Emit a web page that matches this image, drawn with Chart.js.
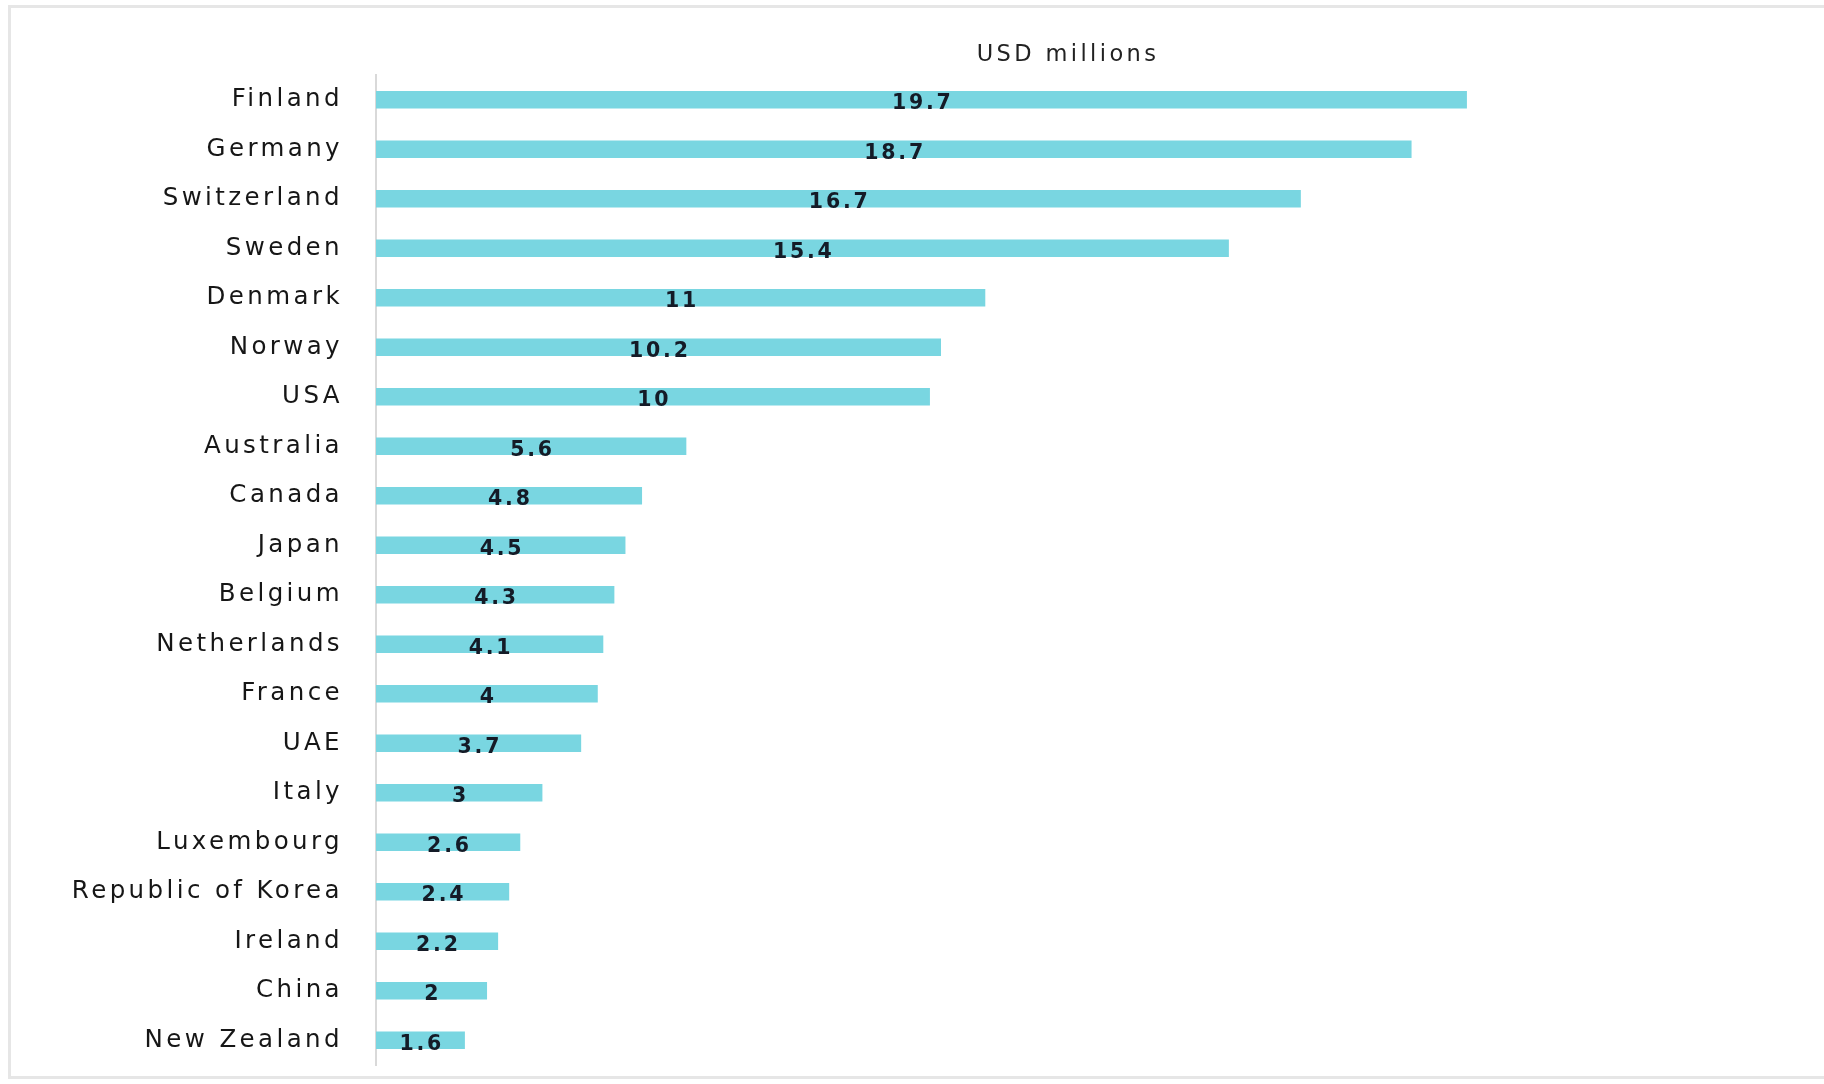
<!DOCTYPE html>
<html>
<head>
<meta charset="utf-8">
<script src="https://cdn.jsdelivr.net/npm/chart.js@4.4.1/dist/chart.umd.min.js"></script>
<style>
  html, body { margin: 0; padding: 0; background: #ffffff; overflow: hidden; }
  #wrap { position: relative; width: 1824px; height: 1084px; }
  #frame { position: absolute; left: 8px; top: 5px; width: 1840px; height: 1074px;
           border: 3px solid #e6e6e6; box-sizing: border-box; pointer-events: none; }
  canvas { position: absolute; left: 0; top: 0; }
</style>
</head>
<body>
<div id="wrap">
  <canvas id="c" width="1824" height="1084"></canvas>
  <div id="frame"></div>
</div>
<script>
const countries = ["Finland", "Germany", "Switzerland", "Sweden", "Denmark", "Norway", "USA",
  "Australia", "Canada", "Japan", "Belgium", "Netherlands", "France", "UAE", "Italy",
  "Luxembourg", "Republic of Korea", "Ireland", "China", "New Zealand"];
const values = [19.7, 18.7, 16.7, 15.4, 11, 10.2, 10, 5.6, 4.8, 4.5, 4.3, 4.1, 4, 3.7, 3,
  2.6, 2.4, 2.2, 2, 1.6];
const axisTitle = "USD millions";
const xMax = 25;

const LS = '3.4px';
const spacingPlugin = {
  id: 'spacing',
  beforeInit(chart) { chart.ctx.letterSpacing = LS; },
  beforeLayout(chart) { chart.ctx.letterSpacing = LS; },
  beforeDraw(chart) { chart.ctx.letterSpacing = LS; }
};

const valueLabels = {
  id: 'valueLabels',
  afterDatasetsDraw(chart) {
    const ctx = chart.ctx;
    const meta = chart.getDatasetMeta(0);
    ctx.save();
    ctx.letterSpacing = '2.8px';
    ctx.font = 'bold 20.5px "DejaVu Sans"';
    ctx.fillStyle = '#141b27';
    ctx.textAlign = 'center';
    ctx.textBaseline = 'middle';
    meta.data.forEach((bar, i) => {
      const cx = (bar.x + bar.base) / 2;
      ctx.fillText(String(values[i]), cx + 1.5, bar.y + 4);
    });
    ctx.restore();
  }
};

new Chart(document.getElementById('c'), {
  type: 'bar',
  data: {
    labels: countries,
    datasets: [{
      data: values,
      backgroundColor: '#79d6e1',
      borderWidth: 0,
      barThickness: 17
    }]
  },
  options: {
    indexAxis: 'y',
    responsive: false,
    devicePixelRatio: 1,
    animation: false,
    layout: { padding: { left: 0, right: 64, top: 0, bottom: 19 } },
    plugins: {
      legend: { display: false },
      tooltip: { enabled: false },
      title: { display: false }
    },
    scales: {
      x: {
        position: 'top',
        min: 0,
        max: xMax,
        grid: { display: false, drawTicks: false },
        border: { display: false },
        ticks: { display: false },
        title: {
          display: true,
          text: axisTitle,
          color: '#222222',
          font: { family: '"DejaVu Sans"', size: 22.5 },
          padding: { top: 42, bottom: 0 }
        },
        afterFit(scale) { scale.height = 75; }
      },
      y: {
        grid: { display: false, drawTicks: false },
        border: { display: true, color: '#d9d9d9', width: 2 },
        ticks: {
          color: '#161616',
          padding: 33,
          font: { family: '"DejaVu Sans"', size: 24.5 }
        },
        afterFit(scale) {
          scale.width = 376;
          scale.paddingTop = 0;
          scale.paddingBottom = 0;
        }
      }
    }
  },
  plugins: [spacingPlugin, valueLabels]
});
</script>
</body>
</html>
